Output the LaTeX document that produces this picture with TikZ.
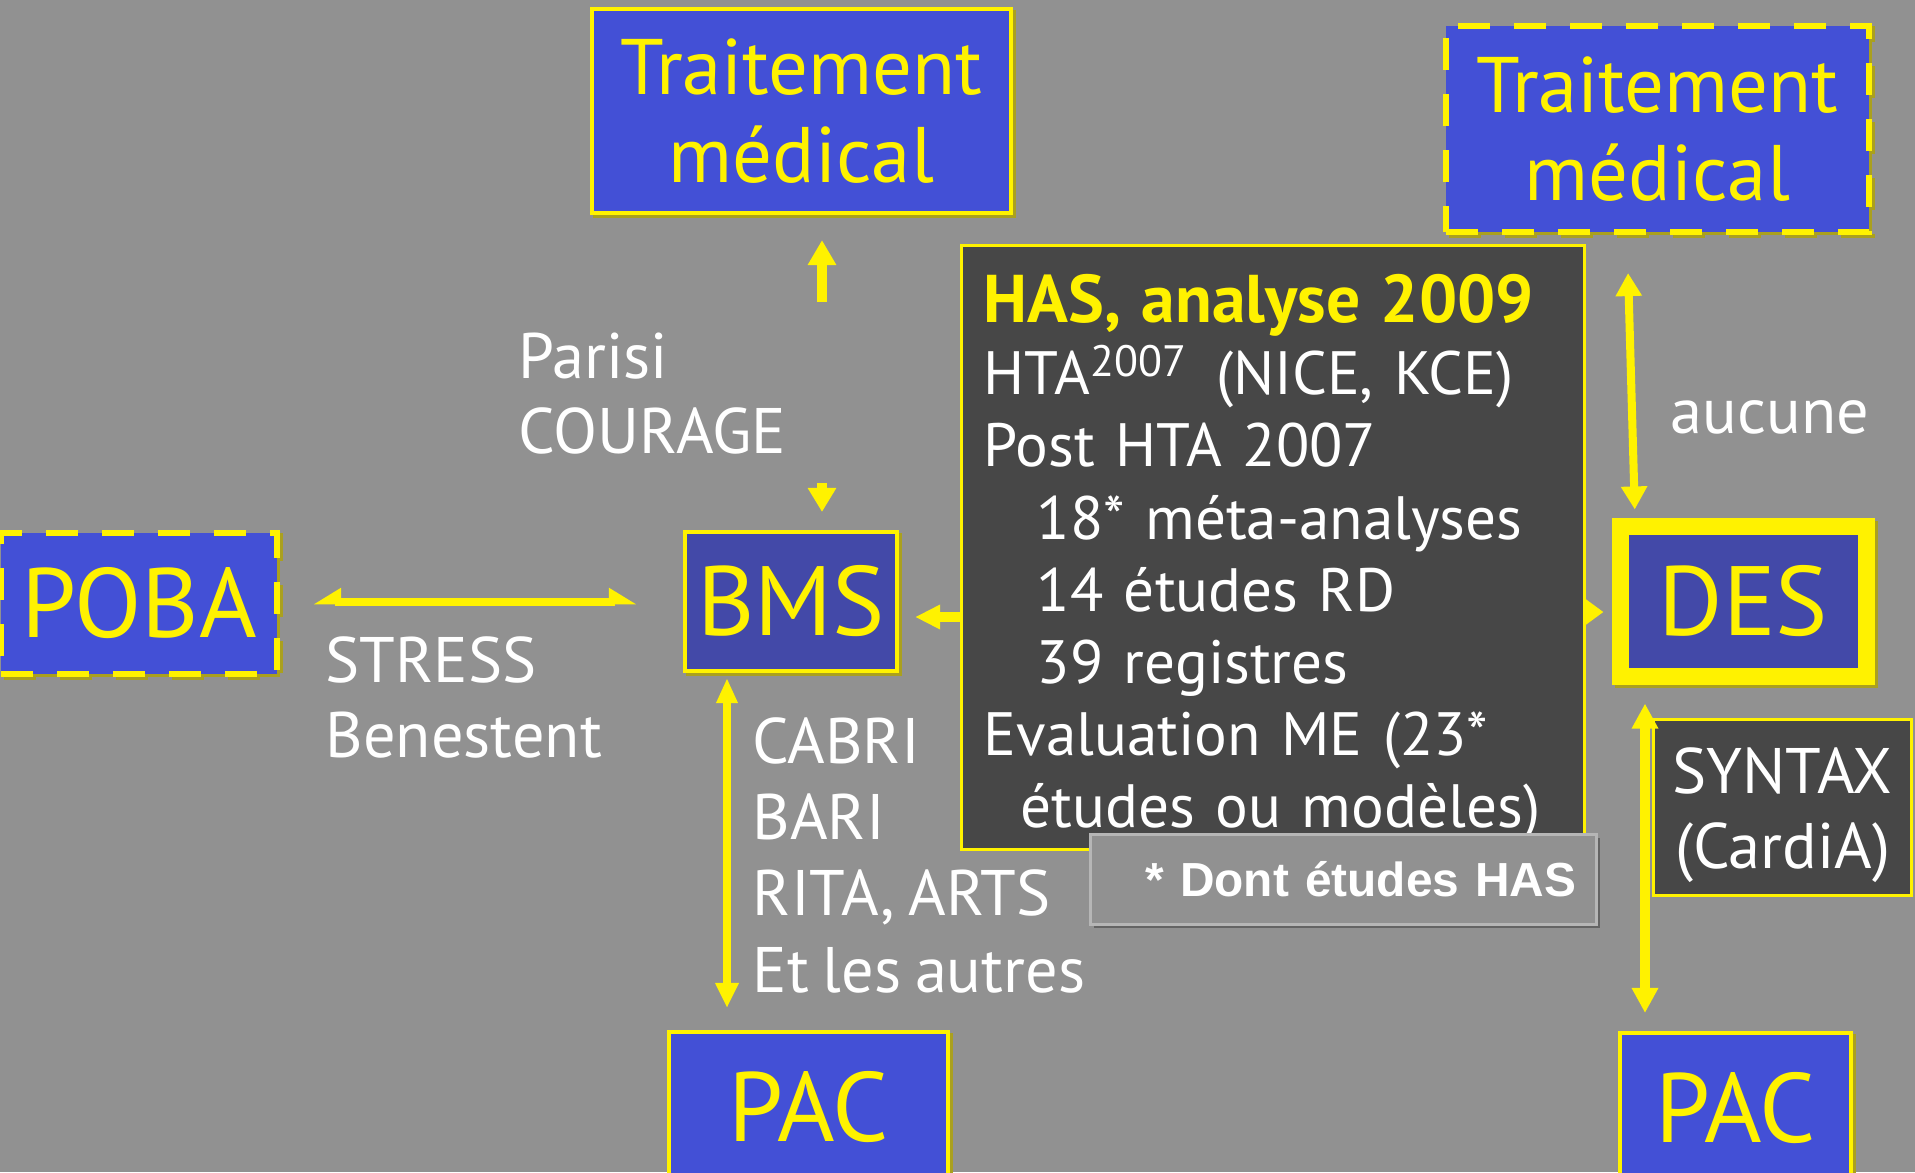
\documentclass[tikz,border=0pt]{standalone}
\usepackage{fontspec}
\setmainfont{PT Sans}[WordSpace=0.8]
\newfontfamily\notefont{Liberation Sans}
\usetikzlibrary{arrows.meta, shadows}

\definecolor{bgcol}{RGB}{145,145,145}
\definecolor{boxblue}{RGB}{67,80,214}
\definecolor{dimblue}{RGB}{67,73,168}
\definecolor{hasgray}{RGB}{71,71,71}
\definecolor{shadowyel}{RGB}{170,160,30}
\definecolor{notelight}{RGB}{182,182,182}
\definecolor{notedark}{RGB}{100,100,100}

\begin{document}
\begin{tikzpicture}[
    x=0.01cm, y=-0.01cm,
    boxshadow/.style={drop shadow={shadow xshift=0.03cm, shadow yshift=-0.03cm, fill=shadowyel, draw=shadowyel, opacity=1}},
    treatment/.style={draw=yellow, fill=boxblue, line width=1.14pt, text=yellow, align=center, inner sep=0pt, font=\fontsize{22.4}{24.8}\selectfont, boxshadow},
    device/.style={draw=yellow, fill=boxblue, line width=1.14pt, text=yellow, inner sep=0pt, font=\fontsize{28}{30}\selectfont, boxshadow},
    dashedbox/.style={line width=1.7pt, dash pattern=on 0.32cm off 0.24cm},
    hasbox/.style={draw=yellow, fill=hasgray, line width=0.85pt, text=white, align=left, inner ysep=0pt, font=\fontsize{17.4}{20.5}\selectfont},
    notebox/.style={draw=notelight, fill=bgcol, line width=0.85pt, text=white, align=right, inner ysep=0pt, font=\notefont\fontsize{13.6}{16}\selectfont\bfseries, drop shadow={shadow xshift=0.035cm, shadow yshift=-0.035cm, fill=notedark, opacity=1}},
    synbox/.style={draw=yellow, fill=hasgray, line width=0.85pt, text=white, align=center, inner sep=0pt, font=\fontsize{18.3}{21.3}\selectfont},
    trial/.style={text=white, align=left, inner sep=0pt, anchor=base west, font=\fontsize{18.3}{21.3}\selectfont},
    flow/.style={draw=yellow, line width=2.85pt},
    flowthin/.style={draw=yellow, line width=2.28pt}
]

    % --- Canvas ---
    \useasboundingbox (0,0) rectangle (1915,1172);
    \fill[bgcol] (0,0) rectangle (1915,1172);
    \clip (0,0) rectangle (1915,1172);

    % --- Treatment boxes ---
    \node[treatment, minimum width=4.19cm, minimum height=2.04cm] (trt) at (801.5,111) {Traitement\\médical};
    \node[treatment, dashedbox, minimum width=4.23cm, minimum height=2.06cm] (trtd) at (1657.5,129) {Traitement\\médical};

    % --- Devices ---
    \node[device, dashedbox, minimum width=2.76cm, minimum height=1.41cm] (poba) at (139,603.5) {POBA};
    \node[device, fill=dimblue, minimum width=2.12cm, minimum height=1.39cm] (bms) at (791,601.5) {BMS};
    \node[device, fill=dimblue, line width=4.84pt, minimum width=2.46cm, minimum height=1.50cm] (des) at (1743.5,601.5) {DES};
    \node[device, minimum width=2.79cm, minimum height=1.51cm] (pacl) at (808.5,1107.5) {PAC};
    \node[device, minimum width=2.31cm, minimum height=1.49cm] (pacr) at (1735.5,1108) {PAC};

    % --- HAS analysis ---
    \node[hasbox, text width=5.78cm, inner xsep=0.22cm, minimum height=6.04cm] (has) at (1273,547.5) {%
        \rule{0pt}{19.5pt}\textcolor{yellow}{\fontsize{19.2}{20.5}\selectfont\bfseries HAS, analyse 2009}\\
        HTA\raisebox{0.3em}{\fontsize{12.5}{13}\selectfont 2007} \hspace{0.15em}(NICE, KCE)\\
        Post HTA 2007\\
        \hspace*{0.53cm}18* méta-analyses\\
        \hspace*{0.53cm}14 études RD\\
        \hspace*{0.53cm}39 registres\\
        Evaluation ME (23*\\
        \hspace*{0.37cm}études ou modèles)};
    \node[notebox, text width=4.65cm, inner xsep=0.2cm, minimum height=0.9cm] (note) at (1343.5,879.5) {* Dont études HAS};
    \node[synbox, minimum width=2.58cm, minimum height=1.76cm] (syntax) at (1782.5,807.5) {\rule{0pt}{17.5pt}SYNTAX\\(CardiA)};

    % --- Trials ---
    \node[trial] (parisi) at (518,453) {Parisi\\COURAGE};
    \node[trial] (stress) at (325,757) {STRESS\\Benestent};
    \node[trial, font=\fontsize{18.3}{21.7}\selectfont] (cabri) at (752,992) {CABRI\\BARI\\RITA, ARTS\\Et les autres};
    \node[trial] (aucune) at (1670,433) {aucune};

    % --- Connections ---
    \coordinate (parisiup) at (822,302);
    \coordinate (parisidn) at (822,483);
    \coordinate (hasleft) at (0,617);
    \coordinate (hasright) at (0,612);
    \coordinate (cabricol) at (727,0);
    \coordinate (aucunetop) at (1627,0);
    \coordinate (aucunebot) at (1635,0);
    \coordinate (syntaxcol) at (1645,0);

    % Parisi / COURAGE
    \draw[flow, -{Triangle[length=0.25cm, width=0.27cm]}, shorten >=0.25cm] (parisiup) -- (parisiup |- trt.south);
    \draw[flow, -{Triangle[length=0.24cm, width=0.27cm]}, shorten >=0.18cm] (parisidn) -- (parisidn |- bms.north);
    % HAS to BMS and DES
    \draw[flow, -{Triangle[length=0.25cm, width=0.23cm]}, shorten >=0.16cm] (has.west |- hasleft) -- (bms.east |- hasleft);
    \draw[flow, -{Triangle[length=0.18cm, width=0.25cm]}, shorten >=0.085cm] (has.east |- hasright) -- (des.west |- hasright);
    % STRESS / Benestent
    \draw[flowthin, {Triangle[harpoon, swap, length=0.23cm, width=0.26cm]}-{Triangle[harpoon, length=0.23cm, width=0.26cm]}, shorten <=0.33cm, shorten >=0.46cm] (poba.east |- bms.west) -- (bms.west);
    % CABRI, BARI, ...
    \draw[flowthin, {Triangle[length=0.25cm, width=0.2cm]}-{Triangle[length=0.25cm, width=0.22cm]}, shorten <=0.05cm, shorten >=0.22cm] (bms.south -| cabricol) -- (pacl.north -| cabricol);
    % aucune
    \draw[flowthin, {Triangle[length=0.23cm, width=0.25cm]}-{Triangle[length=0.23cm, width=0.25cm]}, shorten <=0.38cm, shorten >=0.085cm] (trtd.south -| aucunetop) -- (des.north -| aucunebot);
    % SYNTAX
    \draw[flow, {Triangle[length=0.25cm, width=0.25cm]}-{Triangle[length=0.25cm, width=0.25cm]}, shorten <=0.185cm, shorten >=0.185cm] (des.south -| syntaxcol) -- (pacr.north -| syntaxcol);

\end{tikzpicture}
\end{document}
